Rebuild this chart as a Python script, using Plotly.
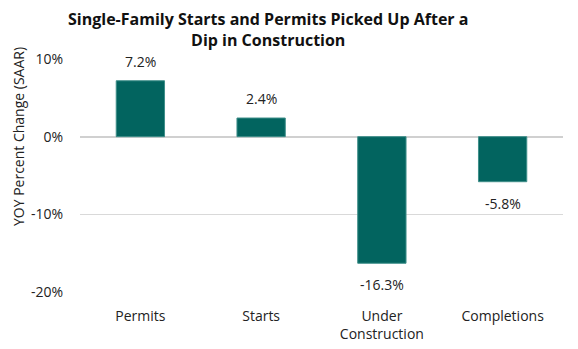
import plotly.graph_objects as go

categories = ["Permits", "Starts", "Under<br>Construction", "Completions"]
yoy_change = [7.2, 2.4, -16.3, -5.8]
tick_values = [10, 0, -10, -20]
tick_labels = ["10%", "0%", "-10%", "-20%"]
chart_title = "Single-Family Starts and Permits Picked Up After a<br>Dip in Construction"
y_title = "YOY Percent Change (SAAR)"

bar_color = "#02645f"
text_color = "#222222"
font_family = "Open Sans, sans-serif"

fig = go.Figure()
fig.add_trace(go.Bar(
    x=categories,
    y=yoy_change,
    marker=dict(color=bar_color, line=dict(color="#3f8f8a", width=1)),
    hoverinfo="skip",
))

# value labels just beyond the end of each bar
for cat, val in zip(categories, yoy_change):
    fig.add_annotation(
        x=cat, y=val, text=f"{val:.1f}%", showarrow=False,
        yanchor="bottom" if val >= 0 else "top",
        yshift=8 if val >= 0 else -10,
        font=dict(family=font_family, size=14, color=text_color),
    )

# two-line bold heading above the plot area
fig.add_annotation(
    xref="paper", yref="paper", x=0.39, y=1, yshift=6,
    xanchor="center", yanchor="bottom",
    text=f"<b>{chart_title}</b>", showarrow=False, align="center",
    font=dict(family=font_family, size=16, color="#111111"),
)

# vertical axis caption
fig.add_annotation(
    xref="paper", yref="paper", x=0, xshift=-62, y=0.665,
    xanchor="center", yanchor="middle", textangle=-90,
    text=y_title, showarrow=False,
    font=dict(family=font_family, size=14, color=text_color),
)

fig.update_layout(
    width=578, height=349,
    margin=dict(l=80, r=15, t=59, b=57),
    paper_bgcolor="white", plot_bgcolor="white",
    bargap=0.6,
    showlegend=False,
    font=dict(family=font_family, size=14, color=text_color),
    xaxis=dict(
        showgrid=False, showline=False, ticks="",
        ticklabelstandoff=14, automargin=False,
        tickfont=dict(size=14, color=text_color),
    ),
    yaxis=dict(
        range=[-20, 10],
        tickvals=tick_values, ticktext=tick_labels,
        showgrid=True, gridcolor="#d9d9d9", gridwidth=1,
        zeroline=True, zerolinecolor="#d0d0d0", zerolinewidth=1.5,
        showline=False, ticks="",
        ticklabelstandoff=16, automargin=False,
        tickfont=dict(size=14, color=text_color),
    ),
)

fig.write_html("out.html")
